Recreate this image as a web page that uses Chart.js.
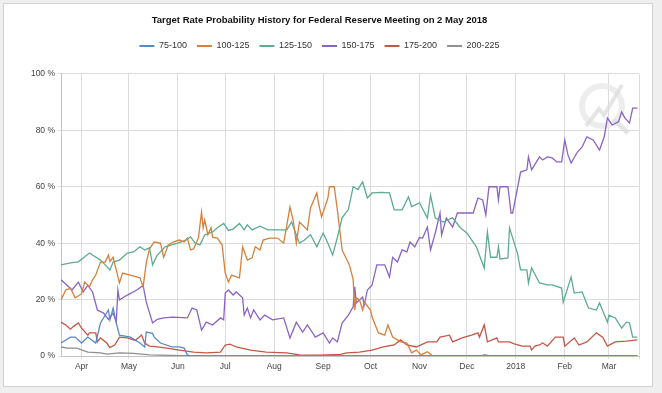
<!DOCTYPE html>
<html>
<head>
<meta charset="utf-8">
<title>Target Rate Probability History</title>
<script src="https://cdn.jsdelivr.net/npm/chart.js@4.4.1/dist/chart.umd.min.js"></script>
<style>
  html, body { margin: 0; padding: 0; background: #efefef; }
  #panel { position: absolute; left: 3px; top: 3px; width: 648px; height: 382px; background: #fff; border: 1px solid #d2d2d2; }
  #wrap { position: absolute; left: 0; top: 0; width: 662px; height: 393px; }
</style>
</head>
<body>
<div id="panel"></div>
<div id="wrap"><canvas id="chart"></canvas></div>
<script>
// day offsets are counted from startDate
const startDate = '2017-03-19';
const lastDay = 366;

const monthTicks = ['2017-04-01', '2017-05-01', '2017-06-01', '2017-07-01', '2017-08-01', '2017-09-01',
  '2017-10-01', '2017-11-01', '2017-12-01', '2018-01-01', '2018-02-01', '2018-03-01'];
const monthLabels = ['Apr', 'May', 'Jun', 'Jul', 'Aug', 'Sep', 'Oct', 'Nov', 'Dec', '2018', 'Feb', 'Mar'];

const seriesNames = ['75-100', '100-125', '125-150', '150-175', '175-200', '200-225'];
const seriesColors = ['#5a8ac6', '#d5813c', '#5eab92', '#8a64c3', '#c2584a', '#8f8f8f'];

const days75 = [0, 6, 9, 13, 17, 22, 25, 30, 31, 33, 35, 37, 44, 50, 53, 54, 58, 59, 63, 70, 75, 78, 80, 82, 365];
const prob75 = [4.6, 6.7, 6.7, 4.6, 6.7, 4.6, 11.7, 16.3, 12.8, 17, 11.7, 7.4, 6.7, 4.6, 3.2, 8.5, 8, 6.7, 4.6, 3.2, 3.2, 2.8, 0.4, 0, 0];

const days100 = [0, 3, 6, 9, 13, 15, 18, 20, 22, 25, 28, 30, 31, 33, 35, 37, 39, 44, 50, 52,
  54, 56, 59, 63, 65, 68, 71, 75, 78, 80, 82, 84, 87, 89, 90, 91, 93, 95, 96, 99,
  102, 104, 106, 108, 113, 115, 118, 121, 123, 126, 128, 132, 137, 141, 145, 147, 149, 151, 156, 158,
  162, 163, 165, 169, 170, 173, 175, 178, 182, 183, 185, 186, 187, 189, 191, 192, 196, 197, 201, 205,
  207, 210, 215, 219, 222, 225, 228, 232, 235, 240, 365];
const prob100 = [19.9, 23.4, 24, 20.6, 22, 26.2, 24.5, 27, 28.7, 33.3, 33.3, 35.8, 33.5, 35, 30.5, 25.9, 29.4, 28.7, 27.7, 24.5,
  33, 38, 40.4, 40, 35, 39.4, 40.4, 41.1, 40.4, 41.8, 37.6, 38, 41.8, 51, 45.4, 48.2, 43, 45.5, 42, 41.8,
  39.4, 29.4, 26.2, 28.7, 27.7, 38.7, 34, 34.8, 38.7, 37.6, 41.1, 41.8, 41.8, 40, 52.8, 48.2, 40, 47.5, 44.7, 52.5,
  57.8, 54.3, 49.3, 56, 60, 60, 51.8, 37.6, 33, 31.6, 27, 16.3, 20.6, 19.9, 16.3, 19.1, 16.3, 13.8, 8.2, 7.4,
  11, 6.7, 5, 4.6, 1.1, 2.1, 0.4, 1.5, 0.2, 0, 0];

const days125 = [0, 6, 11, 18, 25, 28, 31, 33, 37, 42, 46, 50, 53, 56, 58, 61, 66, 70, 74, 79,
  82, 85, 88, 91, 96, 99, 103, 106, 109, 113, 116, 118, 121, 126, 131, 137, 143, 146, 151, 154,
  158, 162, 166, 169, 172, 175, 178, 182, 185, 188, 191, 194, 197, 203, 208, 211, 216, 220, 222, 227,
  232, 234, 237, 242, 248, 253, 257, 263, 268, 270, 272, 276, 277, 278, 283, 284, 289, 291, 295, 296,
  298, 303, 308, 311, 317, 318, 323, 325, 330, 334, 339, 341, 346, 347, 351, 355, 358, 360, 362, 365];
const prob125 = [32.3, 33, 33.4, 36.5, 34, 32.3, 30.5, 33.3, 34, 36.5, 36.9, 38.7, 37.6, 38.3, 32.3, 35.8, 38.7, 39.4, 40, 41.1,
  42.2, 40, 39.4, 42.9, 44, 45.5, 47, 44.5, 45, 47, 44.7, 46.5, 44.7, 46, 44.7, 44.7, 44.7, 47.5, 40, 41,
  43, 38.7, 43.6, 40, 35.8, 42, 49, 52, 60, 59, 61.7, 56, 57.8, 58, 57.8, 51.8, 51.8, 56.4, 53, 54.3,
  48.9, 57, 48.9, 47.5, 49, 45.4, 43.6, 38.7, 31.2, 44, 35, 35, 38.7, 34.4, 34.8, 45.4, 36.5, 30.5, 30.5, 25.9,
  31.2, 25.9, 25.2, 25.2, 24.1, 19.1, 28, 22.3, 22.7, 17, 16.3, 18.8, 12, 14.5, 13.5, 9.9, 12, 11.7, 6.7, 6.7];

const days150 = [0, 4, 7, 11, 14, 17, 20, 23, 27, 30, 33, 35, 36, 37, 42, 48, 52, 54, 58, 61,
  65, 71, 80, 83, 86, 89, 92, 96, 101, 103, 104, 106, 109, 111, 115, 116, 118, 120, 122, 126,
  129, 134, 141, 145, 149, 153, 156, 159, 161, 166, 170, 172, 175, 178, 182, 185, 186, 187, 191, 192,
  194, 197, 200, 205, 208, 210, 213, 216, 219, 221, 224, 227, 229, 232, 234, 237, 240, 241, 244, 248,
  251, 261, 264, 267, 269, 271, 276, 277, 278, 283, 285, 286, 291, 295, 296, 298, 303, 305, 308, 311,
  314, 317, 319, 321, 323, 327, 330, 333, 337, 341, 344, 346, 349, 353, 355, 357, 360, 362, 365];
const prob150 = [27, 25, 23.4, 26.2, 22.7, 25, 22.7, 16.3, 15.2, 13, 15.2, 12, 23.4, 19.9, 21.6, 23.4, 25, 19.1, 11.7, 13,
  13.5, 13.8, 13.5, 17, 16.3, 9.2, 12, 11, 13.5, 12.8, 22.3, 23.4, 21.6, 22.7, 20.6, 14.5, 17, 13.5, 16.3, 12.8,
  14.5, 12.8, 13.5, 6.4, 12, 8.5, 11, 8.5, 6.7, 8.2, 4.6, 6.4, 5, 11.7, 14.5, 17.4, 24.5, 18.8, 20.9, 18,
  23.4, 25.2, 32.3, 32.3, 28, 35, 33.3, 37.6, 36.9, 40.4, 38.7, 42, 41.8, 45.7, 37.6, 43.6, 50.7, 42.9, 48.9, 45.7,
  50.7, 50.7, 56, 55.3, 50, 60, 60, 55.3, 60, 60, 50.7, 50.7, 65.2, 66, 70.6, 66, 70.6, 69.5, 70.6, 70.2,
  68.8, 68.8, 76.6, 71.3, 68.4, 72.3, 74.1, 77.7, 76.6, 73, 77.7, 84.4, 81.9, 83, 86.5, 84.4, 82.6, 87.9, 87.9];

const days175 = [0, 3, 6, 8, 11, 13, 17, 18, 22, 23, 25, 29, 31, 34, 37, 42, 47, 51, 53, 56,
  61, 67, 75, 84, 92, 101, 104, 107, 111, 120, 130, 143, 151, 164, 177, 181, 189, 197, 204, 211,
  215, 219, 225, 232, 238, 240, 246, 248, 254, 260, 264, 265, 268, 270, 276, 277, 284, 287, 292, 297,
  298, 300, 303, 305, 308, 313, 318, 319, 325, 328, 333, 339, 343, 346, 351, 358, 365];
const prob175 = [12, 11, 9.5, 10.5, 11.7, 9.9, 7.4, 8.2, 8.2, 5, 6.4, 4.6, 3, 3.9, 6.7, 6.4, 5.5, 7.4, 4.6, 3.5,
  3.2, 2.8, 2.1, 1.4, 1.1, 1.4, 3.9, 4.2, 3.2, 2.1, 1.4, 1.1, 0.4, 0.3, 0.6, 1.1, 1.4, 2.1, 3.2, 3.9,
  5.7, 3.9, 3.2, 5, 5, 6.7, 7.4, 5, 6.4, 7.4, 8.2, 6.7, 11, 5, 6.4, 5, 5, 4.3, 3.5, 3.5,
  2.1, 3.5, 3.9, 4.6, 3.5, 6.7, 6.7, 3.5, 6.4, 3.9, 5, 8.2, 6.7, 3.5, 5, 5.3, 5.7];

const days200 = [0, 4, 10, 17, 25, 29, 37, 46, 56, 69, 88, 266, 268, 271, 275, 365];
const prob200 = [3.2, 2.8, 2.8, 1.4, 1.1, 0.7, 1.1, 0.9, 0.4, 0.2, 0, 0, 0.5, 0.1, 0, 0];

const seriesDays = [days75, days100, days125, days150, days175, days200];
const seriesProb = [prob75, prob100, prob125, prob150, prob175, prob200];

const tickDays = monthTicks.map(function (d) {
  return Math.round((Date.parse(d) - Date.parse(startDate)) / 86400000);
});

const labelFont = 'Liberation Sans Narrow, Arial Narrow, Liberation Sans, Arial, sans-serif';

// extra room between the legend and the plot
const legendSpacer = {
  id: 'legendSpacer',
  beforeInit: function (chart) {
    const fit = chart.legend.fit;
    chart.legend.fit = function () {
      fit.call(this);
      this.height += 13.5;
    };
  }
};

// faint logo in the upper right corner of the plot
const watermark = {
  id: 'watermark',
  beforeDatasetsDraw: function (chart) {
    const ctx = chart.ctx;
    ctx.save();
    ctx.strokeStyle = 'rgba(232, 232, 232, 0.8)';
    ctx.lineWidth = 6;
    ctx.beginPath();
    ctx.arc(602, 106, 20, 0, Math.PI * 2);
    ctx.stroke();
    ctx.strokeStyle = 'rgba(222, 222, 222, 0.8)';
    ctx.lineWidth = 4;
    ctx.beginPath();
    ctx.moveTo(586, 126);
    ctx.lineTo(599, 109);
    ctx.lineTo(604, 115);
    ctx.lineTo(622, 85);
    ctx.stroke();
    ctx.lineWidth = 5;
    ctx.beginPath();
    ctx.moveTo(614, 120);
    ctx.lineTo(628, 133);
    ctx.stroke();
    ctx.restore();
  }
};

const datasets = seriesNames.map(function (name, i) {
  return {
    label: name,
    data: seriesDays[i].map(function (d, j) { return { x: d, y: seriesProb[i][j] }; }),
    borderColor: seriesColors[i],
    backgroundColor: seriesColors[i],
    borderWidth: 1.3,
    pointRadius: 0,
    tension: 0,
    fill: false
  };
});

new Chart(document.getElementById('chart'), {
  type: 'line',
  data: { datasets: datasets },
  plugins: [legendSpacer, watermark],
  options: {
    responsive: true,
    maintainAspectRatio: false,
    animation: false,
    devicePixelRatio: 1,
    layout: { padding: { left: 0, right: 23, top: 0, bottom: 0 } },
    plugins: {
      title: {
        display: true,
        text: 'Target Rate Probability History for Federal Reserve Meeting on 2 May 2018',
        color: '#111',
        font: { family: labelFont, size: 9.5, weight: 'bold' },
        padding: { top: 14.5, bottom: 5.5 }
      },
      legend: {
        position: 'top',
        labels: {
          color: '#333',
          font: { family: labelFont, size: 9 },
          usePointStyle: true,
          pointStyle: 'line',
          pointStyleWidth: 15,
          boxHeight: 9,
          padding: 10,
          generateLabels: function (chart) {
            return Chart.defaults.plugins.legend.labels.generateLabels(chart).map(function (item) {
              item.lineWidth = 2;
              return item;
            });
          }
        }
      },
      tooltip: { enabled: false }
    },
    scales: {
      x: {
        type: 'linear',
        min: 0,
        max: lastDay,
        afterFit: function (scale) { scale.height = 37; },
        afterBuildTicks: function (scale) {
          scale.ticks = tickDays.map(function (v) { return { value: v }; }).concat([{ value: lastDay }]);
        },
        ticks: {
          autoSkip: false,
          maxRotation: 0,
          padding: 3,
          color: '#444',
          font: { family: labelFont, size: 8.5 },
          callback: function (v) {
            const i = tickDays.indexOf(v);
            return i >= 0 ? monthLabels[i] : '';
          }
        },
        grid: { color: '#dcdcdc', tickLength: 3 },
        border: { color: '#c4c4c4' }
      },
      y: {
        min: 0,
        max: 100,
        afterFit: function (scale) { scale.width = 61; },
        ticks: {
          stepSize: 20,
          padding: 3,
          color: '#444',
          font: { family: labelFont, size: 8.5 },
          callback: function (v) { return v + ' %'; }
        },
        grid: { color: '#dcdcdc', tickLength: 3 },
        border: { color: '#c4c4c4' }
      }
    }
  }
});
</script>
</body>
</html>
